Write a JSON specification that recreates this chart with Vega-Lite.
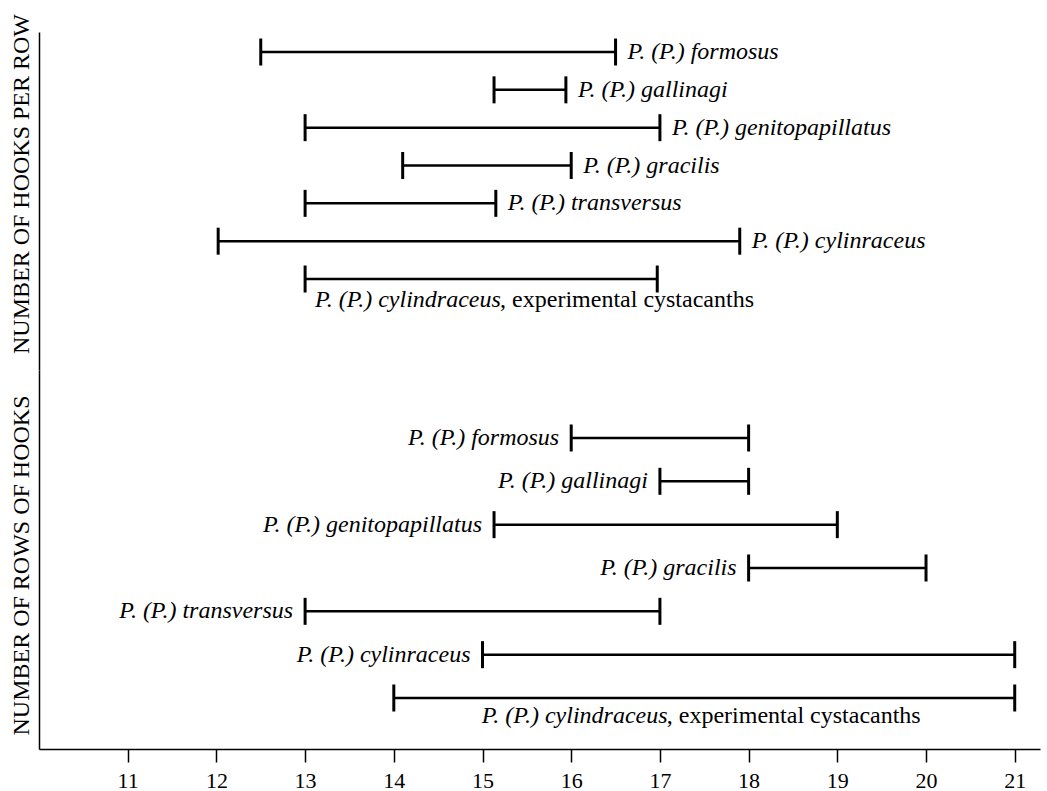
{
  "$schema": "https://vega.github.io/schema/vega-lite/v6.json",
  "padding": {"left": 8, "top": 13, "right": 7, "bottom": 0},
  "background": "white",
  "config": {
    "font": "Liberation Serif",
    "view": {"stroke": null},
    "concat": {"spacing": 0},
    "axis": {"domainColor": "black", "tickColor": "black", "labelColor": "black", "titleColor": "black", "grid": false, "titleFontWeight": "normal", "labelFont": "Liberation Serif", "titleFont": "Liberation Serif"}
  },
  "datasets": {
    "perRow": [
      {"row": 1, "lo": 12.5, "hi": 16.5, "label": "P. (P.) formosus", "exp": false},
      {"row": 2, "lo": 15.13, "hi": 15.94, "label": "P. (P.) gallinagi", "exp": false},
      {"row": 3, "lo": 13.0, "hi": 17.0, "label": "P. (P.) genitopapillatus", "exp": false},
      {"row": 4, "lo": 14.1, "hi": 16.0, "label": "P. (P.) gracilis", "exp": false},
      {"row": 5, "lo": 13.0, "hi": 15.15, "label": "P. (P.) transversus", "exp": false},
      {"row": 6, "lo": 12.02, "hi": 17.9, "label": "P. (P.) cylinraceus", "exp": false},
      {"row": 7, "lo": 13.0, "hi": 16.97, "label": "P. (P.) cylindraceus", "suffix": ", experimental cystacanths", "exp": true}
    ],
    "rows": [
      {"row": 1, "lo": 16.0, "hi": 18.0, "label": "P. (P.) formosus", "exp": false},
      {"row": 2, "lo": 17.0, "hi": 18.0, "label": "P. (P.) gallinagi", "exp": false},
      {"row": 3, "lo": 15.13, "hi": 19.0, "label": "P. (P.) genitopapillatus", "exp": false},
      {"row": 4, "lo": 18.0, "hi": 20.0, "label": "P. (P.) gracilis", "exp": false},
      {"row": 5, "lo": 13.0, "hi": 17.0, "label": "P. (P.) transversus", "exp": false},
      {"row": 6, "lo": 15.0, "hi": 21.0, "label": "P. (P.) cylinraceus", "exp": false},
      {"row": 7, "lo": 14.0, "hi": 21.0, "label": "P. (P.) cylindraceus", "suffix": ", experimental cystacanths", "exp": true}
    ]
  },
  "vconcat": [
    {
      "width": 1001,
      "height": 338,
      "data": {"name": "perRow"},
      "encoding": {
        "y": {
          "field": "row", "type": "quantitative",
          "scale": {"domain": [0.471, 9.405], "reverse": true, "nice": false, "zero": false},
          "axis": {"title": "NUMBER OF HOOKS PER ROW", "labels": false, "ticks": false, "domainWidth": 1.5, "titleFontSize": 24, "titlePadding": 6, "titleY": 151.5}
        }
      },
      "layer": [
        {
          "mark": {"type": "rule", "strokeWidth": 2.5, "color": "black"},
          "encoding": {
            "x": {"field": "lo", "type": "quantitative", "scale": {"domain": [10, 21.285], "nice": false, "zero": false}, "axis": null},
            "x2": {"field": "hi"}
          }
        },
        {
          "mark": {"type": "tick", "orient": "vertical", "size": 27, "thickness": 3, "color": "black", "opacity": 1},
          "encoding": {
            "x": {"field": "lo", "type": "quantitative", "scale": {"domain": [10, 21.285], "nice": false, "zero": false}, "axis": null}
          }
        },
        {
          "mark": {"type": "tick", "orient": "vertical", "size": 27, "thickness": 3, "color": "black", "opacity": 1},
          "encoding": {
            "x": {"field": "hi", "type": "quantitative", "scale": {"domain": [10, 21.285], "nice": false, "zero": false}, "axis": null}
          }
        },
        {
          "transform": [{"filter": "!datum.exp"}],
          "mark": {"type": "text", "align": "left", "baseline": "middle", "dx": 12, "fontSize": 24, "fontStyle": "italic", "font": "Liberation Serif", "color": "black"},
          "encoding": {
            "x": {"field": "hi", "type": "quantitative", "scale": {"domain": [10, 21.285], "nice": false, "zero": false}, "axis": null},
            "text": {"field": "label"}
          }
        },
        {
          "transform": [{"filter": "datum.exp"}],
          "mark": {"type": "text", "align": "left", "baseline": "middle", "dx": 10, "dy": 21, "fontSize": 24, "fontStyle": "italic", "font": "Liberation Serif", "color": "black"},
          "encoding": {
            "x": {"field": "lo", "type": "quantitative", "scale": {"domain": [10, 21.285], "nice": false, "zero": false}, "axis": null},
            "text": {"field": "label"}
          }
        },
        {
          "transform": [{"filter": "datum.exp"}],
          "mark": {"type": "text", "align": "left", "baseline": "middle", "dx": 195, "dy": 21, "fontSize": 24, "font": "Liberation Serif", "color": "black"},
          "encoding": {
            "x": {"field": "lo", "type": "quantitative", "scale": {"domain": [10, 21.285], "nice": false, "zero": false}, "axis": null},
            "text": {"field": "suffix"}
          }
        }
      ]
    },
    {
      "width": 1001,
      "height": 379,
      "data": {"name": "rows"},
      "encoding": {
        "y": {
          "field": "row", "type": "quantitative",
          "scale": {"domain": [-0.569, 8.177], "reverse": true, "nice": false, "zero": false},
          "axis": {"title": "NUMBER OF  ROWS OF HOOKS", "labels": false, "ticks": false, "domainWidth": 1.5, "titleFontSize": 24, "titlePadding": 6, "titleY": 195}
        }
      },
      "layer": [
        {
          "mark": {"type": "rule", "strokeWidth": 2.5, "color": "black"},
          "encoding": {
            "x": {"field": "lo", "type": "quantitative", "scale": {"domain": [10, 21.285], "nice": false, "zero": false},
              "axis": {"title": null, "values": [11, 12, 13, 14, 15, 16, 17, 18, 19, 20, 21], "labelFontSize": 22, "tickSize": 13, "tickWidth": 1.5, "domainWidth": 1.5, "labelPadding": 8, "labelFlush": false}},
            "x2": {"field": "hi"}
          }
        },
        {
          "mark": {"type": "tick", "orient": "vertical", "size": 27, "thickness": 3, "color": "black", "opacity": 1},
          "encoding": {
            "x": {"field": "lo", "type": "quantitative", "scale": {"domain": [10, 21.285], "nice": false, "zero": false},
              "axis": {"title": null, "values": [11, 12, 13, 14, 15, 16, 17, 18, 19, 20, 21], "labelFontSize": 22, "tickSize": 13, "tickWidth": 1.5, "domainWidth": 1.5, "labelPadding": 8, "labelFlush": false}}
          }
        },
        {
          "mark": {"type": "tick", "orient": "vertical", "size": 27, "thickness": 3, "color": "black", "opacity": 1},
          "encoding": {
            "x": {"field": "hi", "type": "quantitative", "scale": {"domain": [10, 21.285], "nice": false, "zero": false},
              "axis": {"title": null, "values": [11, 12, 13, 14, 15, 16, 17, 18, 19, 20, 21], "labelFontSize": 22, "tickSize": 13, "tickWidth": 1.5, "domainWidth": 1.5, "labelPadding": 8, "labelFlush": false}}
          }
        },
        {
          "transform": [{"filter": "!datum.exp"}],
          "mark": {"type": "text", "align": "right", "baseline": "middle", "dx": -12, "fontSize": 24, "fontStyle": "italic", "font": "Liberation Serif", "color": "black"},
          "encoding": {
            "x": {"field": "lo", "type": "quantitative", "scale": {"domain": [10, 21.285], "nice": false, "zero": false},
              "axis": {"title": null, "values": [11, 12, 13, 14, 15, 16, 17, 18, 19, 20, 21], "labelFontSize": 22, "tickSize": 13, "tickWidth": 1.5, "domainWidth": 1.5, "labelPadding": 8, "labelFlush": false}},
            "text": {"field": "label"}
          }
        },
        {
          "transform": [{"filter": "datum.exp"}],
          "mark": {"type": "text", "align": "left", "baseline": "middle", "dx": 88, "dy": 18, "fontSize": 24, "fontStyle": "italic", "font": "Liberation Serif", "color": "black"},
          "encoding": {
            "x": {"field": "lo", "type": "quantitative", "scale": {"domain": [10, 21.285], "nice": false, "zero": false},
              "axis": {"title": null, "values": [11, 12, 13, 14, 15, 16, 17, 18, 19, 20, 21], "labelFontSize": 22, "tickSize": 13, "tickWidth": 1.5, "domainWidth": 1.5, "labelPadding": 8, "labelFlush": false}},
            "text": {"field": "label"}
          }
        },
        {
          "transform": [{"filter": "datum.exp"}],
          "mark": {"type": "text", "align": "left", "baseline": "middle", "dx": 273, "dy": 18, "fontSize": 24, "font": "Liberation Serif", "color": "black"},
          "encoding": {
            "x": {"field": "lo", "type": "quantitative", "scale": {"domain": [10, 21.285], "nice": false, "zero": false},
              "axis": {"title": null, "values": [11, 12, 13, 14, 15, 16, 17, 18, 19, 20, 21], "labelFontSize": 22, "tickSize": 13, "tickWidth": 1.5, "domainWidth": 1.5, "labelPadding": 8, "labelFlush": false}},
            "text": {"field": "suffix"}
          }
        }
      ]
    }
  ]
}
